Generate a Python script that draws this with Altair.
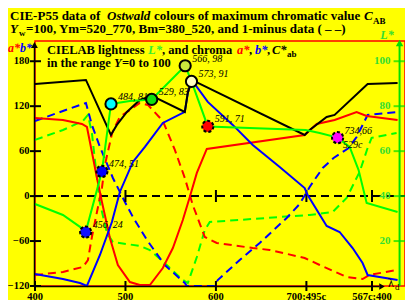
import altair as alt
import pandas as pd

SERIF = "Liberation Serif"

# x: position along the hue axis (400..700 nm, then complementary 495c..567c;400)
# v: CIELAB a*, b*, C*ab values (left axis); L: CIELAB L* (right axis, v = 3L - 120)

cab_x = [400, 456.3, 483.9, 490.5, 501.6, 515.9, 529.2, 565.6, 568.9, 573.3, 698.1, 703.6, 722.4, 731.2, 767.7, 800.8]
cab_v = [149.7, 155.0, 81.6, 95.0, 112.3, 128.3, 133.7, 112.3, 137.7, 155.0, 81.6, 88.3, 105.6, 108.3, 149.7, 151.0]

a_x = [400, 430.9, 451.9, 457.4, 462.9, 468.5, 474.0, 482.8, 491.6, 504.9, 515.9, 527.0, 541.3, 552.4,
       563.4, 571.1, 578.9, 589.9, 698.1, 711.4, 731.2, 755.5, 766.6, 800.8]
a_v = [104.3, 101.6, 96.3, 92.3, 58.9, 24.2, -7.9, -55.9, -92.0, -114.7, -118.7, -118.7, -96.0, -69.3,
       -31.9, -1.2, 30.9, 62.9, 81.6, 96.3, 101.6, 112.3, 107.0, 101.6]

b_x = [400, 430.9, 449.7, 457.4, 471.8, 485.0, 493.8, 508.2, 521.5, 541.3, 565.6, 568.9, 573.3, 591.0,
       618.6, 640.7, 670.5, 698.1, 701.4, 722.4, 736.7, 751.1, 762.1, 767.7, 800.8]
b_v = [-104.0, -110.7, -116.0, -120.0, -78.6, -34.6, 5.5, 45.6, 65.6, 97.6, 112.3, 137.7, 155.0, 125.7,
       95.0, 68.3, 38.9, 10.8, 1.5, -39.9, -47.9, -69.3, -89.3, -105.3, -112.0]

L_x = [400, 430.9, 449.7, 456, 474, 484, 504.9, 529, 566, 573, 591, 699.2, 714.7, 734.5, 747.8, 757.7, 766.6, 800.8]
L_v = [36.5, 31.6, 26.3, 24, 51, 81, 82.3, 83, 98, 91, 71, 69.4, 68.1, 66, 61.9, 51.6, 36.9, 32.9]

a1_x = [400, 430.9, 453.0, 458.5, 462.9, 468.5, 474.0, 477.3, 485.0, 488.3, 493.8, 515.9, 524.8, 541.3,
        554.6, 565.6, 574.4, 587.7, 600.9, 640.7, 659.5, 698.1, 714.7, 744.5, 762.1, 769.9, 799.7]
a1_v = [-105.3, -101.3, -94.6, -85.3, -54.6, -21.2, 10.8, 41.6, 82.9, 92.3, 105.6, 124.3, 121.7, 100.3,
        61.6, 24.2, -11.9, -54.6, -62.6, -69.3, -71.9, -82.6, -92.0, -108.0, -110.7, -105.3, -98.6]

b1_x = [400, 430.9, 456.3, 462.9, 471.8, 486.1, 499.4, 508.2, 523.7, 543.5, 565.6, 567.8, 598.7, 602.0,
        626.3, 648.4, 678.2, 692.6, 703.6, 718.0, 730.1, 746.7, 755.5, 767.7, 800.8]
b1_v = [100.3, 113.6, 124.3, 95.0, 65.6, 24.2, -7.9, -27.9, -58.5, -92.0, -116.0, -120.0, -120.0, -112.0,
        -85.3, -62.6, -29.2, -10.5, 12.2, 37.5, 50.9, 64.2, 78.9, 108.3, 112.3]

L1_x = [400, 430.9, 453.0, 458.5, 462.9, 466.2, 471.8, 479.5, 486.1, 515.9, 527.0, 545.7, 563.4, 568.9,
        578.9, 587.7, 593.2, 626.3, 670.5, 703.6, 729.0, 744.5, 758.8, 767.7, 772.1, 799.7]
L1_v = [65.0, 69.4, 73.4, 76.1, 68.1, 56.1, 36.9, 23.6, 19.6, 17.8, 16.0, 9.3, 2.7, 1.3,
        12.9, 24.9, 28.5, 29.4, 30.7, 31.6, 32.9, 39.2, 50.7, 61.4, 65.9, 68.1]

circ_x = [456, 474, 484, 529, 566, 573, 591, 734.5]
circ_L = [24, 51, 81, 83, 98, 91, 71, 66]
circ_lab = ["456, 24", "474, 51", "484, 81", "529, 83", "566, 98", "573, 91", "591, 71", "734,66"]
circ_col = ["#1010ff", "#0000ff", "#00ffff", "#10e010", "#c8e63c", "#ffffc0", "#ff0000", "#ff00ff"]
circ_dash = [True, True, False, False, False, False, True, True]

ab_ticks = [-120, -60, 0, 60, 120, 180]
ab_tick_labels = ["\u2212120", "\u221260", "0", "60", "120", "180"]
L_ticks = [20, 40, 60, 80, 100]
x_ticks = [400, 500, 600, 700, 772.5]
x_tick_labels = ["400", "500", "600", "700;495c", "567c;400"]
zero_ticks = [500, 600, 700, 772.5]
L_axis_pos = 803

XMAX = 809
XS = alt.Scale(domain=[400, XMAX], nice=False, zero=False)
YS = alt.Scale(domain=[-120, 207], nice=False, zero=False)
X = alt.X("x:Q", scale=XS, axis=None)
Y = alt.Y("v:Q", scale=YS, axis=None)

W, H = 370, 245
one = pd.DataFrame({"a": [0]})
OX, OY = 35, 41  # page position of plot origin


def txt(s, px, py, size=13, color="black", italic=False, bold=True, align="left", baseline="alphabetic"):
    return alt.Chart(one).mark_text(
        text=s, font=SERIF, fontSize=size, fontWeight="bold" if bold else "normal",
        fontStyle="italic" if italic else "normal", color=color, align=align, baseline=baseline
    ).encode(x=alt.value(px - OX), y=alt.value(py - OY))


def line(xs, vs, color, dash=None, is_L=False, width=2):
    df = pd.DataFrame({"x": xs, "w": vs, "o": list(range(len(xs)))})
    ch = alt.Chart(df)
    if is_L:
        ch = ch.transform_calculate(v="3*datum.w-120")
    else:
        ch = ch.transform_calculate(v="datum.w")
    kw = dict(color=color, strokeWidth=width)
    if dash:
        kw["strokeDash"] = dash
    return ch.mark_line(**kw).encode(x=X, y=Y, order="o:Q")


layers = []
DASH = [8, 5]
# 1-minus (dashed) data
layers.append(line(L1_x, L1_v, "#00ff00", DASH, is_L=True))
layers.append(line(a1_x, a1_v, "#ff0000", DASH))
layers.append(line(b1_x, b1_v, "#0000ff", DASH))
# zero dashed line
layers.append(line([400, XMAX], [0, 0], "black", DASH))
zt = pd.DataFrame({"x": zero_ticks})
layers.append(alt.Chart(zt).mark_rule(color="black", strokeWidth=2).encode(
    x=X, y=alt.value(149), y2=alt.value(161)))
# solid data
layers.append(line(a_x, a_v, "#ff0000"))
layers.append(line(b_x, b_v, "#0000ff"))
layers.append(line(cab_x, cab_v, "black"))
layers.append(line(L_x, L_v, "#00ff00", is_L=True))

# circles
cdf = pd.DataFrame({"x": circ_x, "L": circ_L, "lab": circ_lab, "col": circ_col, "dash": circ_dash})
cbase = alt.Chart(cdf).transform_calculate(v="3*datum.L-120")
layers.append(cbase.transform_filter("!datum.dash").mark_point(
    filled=True, size=125, stroke="black", strokeWidth=2, opacity=1).encode(
    x=X, y=Y, fill=alt.Color("col:N", scale=None)))
layers.append(cbase.transform_filter("datum.dash").mark_point(
    filled=True, size=125, stroke="black", strokeWidth=2, strokeDash=[3, 2], opacity=1).encode(
    x=X, y=Y, fill=alt.Color("col:N", scale=None)))
layers.append(cbase.mark_text(font=SERIF, fontSize=10, fontStyle="italic", align="left",
                              baseline="alphabetic", dx=7, dy=-4, color="black").encode(
    x=X, y=Y, text="lab:N"))
layers.append(txt("529c", 343, 148, size=10, italic=True, bold=False))

# left axis
layers.append(alt.Chart(one).mark_rule(color="black", strokeWidth=1.5).encode(
    x=alt.value(-0.5), y=alt.value(H), y2=alt.value(4)))
layers.append(alt.Chart(one).mark_point(shape="triangle-up", filled=True, size=45, color="black", opacity=1).encode(
    x=alt.value(-0.5), y=alt.value(4)))
abt = pd.DataFrame({"v": ab_ticks, "t": ab_tick_labels})
layers.append(alt.Chart(abt).mark_rule(color="black", strokeWidth=2).encode(
    y=Y, x=alt.value(-5), x2=alt.value(6)))
layers.append(alt.Chart(abt).mark_text(font=SERIF, fontSize=10.5, fontWeight="bold", align="right",
                                       baseline="middle", color="black").encode(
    y=Y, x=alt.value(-5.5), text="t:N"))

# right L* axis
GA = "#00e000"
lax = pd.DataFrame({"x": [L_axis_pos]})
layers.append(alt.Chart(lax).mark_rule(color=GA, strokeWidth=2).encode(
    x=X, y=alt.value(H), y2=alt.value(2)))
layers.append(alt.Chart(lax).mark_point(shape="triangle-up", filled=True, size=55, color=GA, opacity=1).encode(
    x=X, y=alt.value(2)))
lt = pd.DataFrame({"L": L_ticks, "x": [L_axis_pos] * len(L_ticks)}).assign(t=lambda d: d["L"].astype(str))
layers.append(alt.Chart(lt).transform_calculate(v="3*datum.L-120").mark_tick(
    color=GA, thickness=2, size=12, orient="horizontal").encode(y=Y, x=X))
layers.append(alt.Chart(lt).transform_calculate(v="3*datum.L-120").mark_text(
    font=SERIF, fontSize=11, fontWeight="bold", align="right", baseline="middle", color="#33dd33", dx=-9).encode(
    y=Y, x=X, text="t:N"))

# x axis
layers.append(alt.Chart(one).mark_rule(color="black", strokeWidth=1.5).encode(
    y=alt.value(H + 0.5), x=alt.value(0), x2=alt.value(344)))
layers.append(alt.Chart(one).mark_point(shape="triangle-right", filled=True, size=40, color="black", opacity=1).encode(
    x=alt.value(347), y=alt.value(H + 0.5)))
xt = pd.DataFrame({"x": x_ticks, "t": x_tick_labels})
layers.append(alt.Chart(xt).mark_rule(color="black", strokeWidth=2).encode(
    x=X, y=alt.value(H - 5), y2=alt.value(H + 5)))
layers.append(alt.Chart(xt).mark_text(font=SERIF, fontSize=10.5, fontWeight="bold", align="center",
                                      baseline="middle", color="black").encode(
    x=X, y=alt.value(H + 10.5), text="t:N"))
layers.append(txt("\u03bb", 388, 287, size=12, bold=False))
layers.append(txt("d", 395, 290, size=9, bold=False))

# titles
layers.append(txt("CIE-P55 data of", 10, 20))
layers.append(txt("Ostwald", 107, 20, italic=True))
layers.append(txt("colours of maximum chromatic value", 154, 20))
layers.append(txt("C", 364, 20, italic=True))
layers.append(txt("AB", 373, 24, size=9))
layers.append(txt("Y", 10, 33, italic=True))
layers.append(txt("w", 19, 36, size=9))
layers.append(txt("=100, Ym=520_770, Bm=380_520, and 1-minus data ( \u2013  \u2013)", 26, 33))

# axis names
layers.append(txt("a*", 8, 52, size=12, italic=True, color="#ff0000"))
layers.append(txt("b*", 20, 52, size=12, italic=True, color="#0000ff"))
layers.append(txt("L*", 387, 39, size=12, italic=True, color="#33dd33", align="center"))

# inner legend text
FS = 12.5
layers.append(txt("CIELAB lightness", 47, 54, size=FS))
layers.append(txt("L*", 148, 54, size=FS, italic=True, color="#33ee33"))
layers.append(txt(", and chroma", 162, 54, size=FS))
layers.append(txt("a*", 237, 54, size=FS, italic=True, color="#ff0000"))
layers.append(txt(",", 249, 54, size=FS))
layers.append(txt("b*", 255, 54, size=FS, italic=True, color="#0000ff"))
layers.append(txt(",", 267, 54, size=FS))
layers.append(txt("C*", 272, 54, size=FS, italic=True))
layers.append(txt("ab", 287, 57, size=9))
layers.append(txt("in the range", 47, 67, size=FS))
layers.append(txt("Y", 114, 67, size=FS, italic=True))
layers.append(txt("=0 to 100", 122, 67, size=FS))

chart = alt.layer(*layers).properties(
    width=W, height=H,
    autosize=alt.AutoSizeParams(type="none"),
    padding={"left": 27, "top": 33, "right": 0, "bottom": 14},
).configure(background="#ffff00").configure_view(stroke="#ff0000", strokeWidth=1.5)

chart.save("out.html", embed_options={"renderer": "svg", "actions": False})
